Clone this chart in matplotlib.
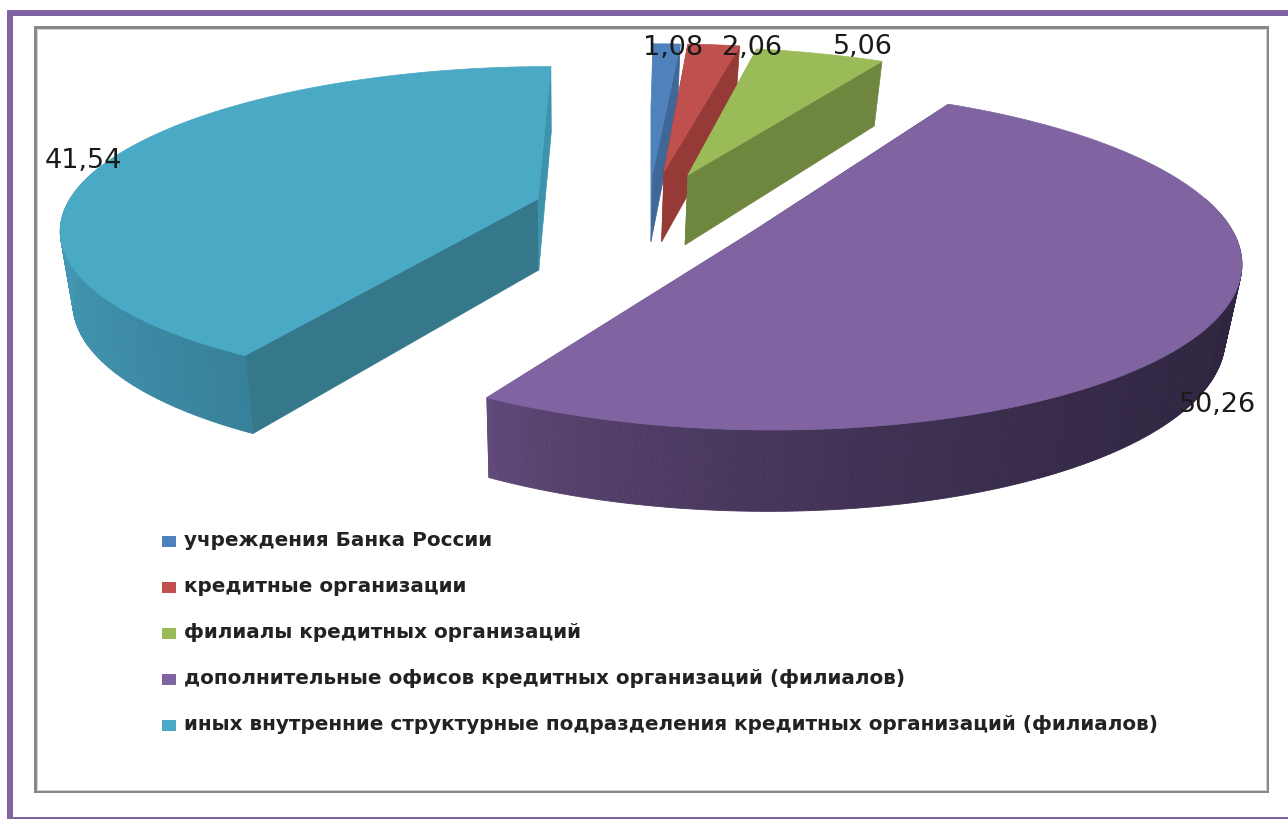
import numpy as np
import matplotlib
matplotlib.use("Agg")
import matplotlib.pyplot as plt
from matplotlib.patches import Polygon, Rectangle
from matplotlib.colors import to_rgb

# data
categories = [
    "учреждения Банка России",
    "кредитные организации",
    "филиалы кредитных организаций",
    "дополнительные офисов кредитных организаций (филиалов)",
    "иных внутренние структурные подразделения кредитных организаций (филиалов)",
]
values = [1.08, 2.06, 5.06, 50.26, 41.54]

# slice styling
top_colors = ["#4f81bd", "#c0504d", "#9bbb59", "#8064a2", "#4aa9c4"]
side_colors = ["#4f81bd", "#963a38", "#6f863f", "#624b7c", "#35788c"]
side_colors_end = ["#3f6797", "#963a38", "#6f863f", "#624b7c", "#3e93ac"]
wall_dark = ["#3f6797", "#963a38", "#6f863f", "#2f2540", "#37809a"]
wall_light = ["#3f6797", "#963a38", "#6f863f", "#644c7e", "#4297b2"]

# exploded layout in pixels (apex of each slice on the picture)
explode_x = [653, 664, 688, 755, 538]
explode_y = [172, 172, 175, 230, 199]
radius_x = [470, 470, 475, 477, 468]
radius_y = [150, 150, 150, 166, 155]
skew = [0, -4, -13, -15, 15]
draw_order = [0, 1, 2, 4, 3]

# perspective settings
PERSP = 0.17
BOTTOM_SCALE = 0.975
BOTTOM_X0 = 570

label_pos = [(673, 48), (752, 48), (863, 47), (1218, 405), (83, 161)]

W, H = 1288, 819
fig = plt.figure(figsize=(W / 100, H / 100), dpi=100)
ax = fig.add_axes([0, 0, 1, 1])
ax.set_xlim(0, W)
ax.set_ylim(H, 0)
ax.axis("off")


def project(i, theta):
    u, v = np.sin(theta), np.cos(theta)
    w = 1 + PERSP * v
    x = explode_x[i] + (radius_x[i] * u + skew[i] * v) / w
    y = explode_y[i] - radius_y[i] * v / w
    return x, y


def drop(x, y):
    # the lower disc: slightly smaller and further down
    return BOTTOM_X0 + BOTTOM_SCALE * (np.asarray(x) - BOTTOM_X0), 62 + 1.045 * np.asarray(y)


def mix(c1, c2, t):
    a, b = np.array(to_rgb(c1)), np.array(to_rgb(c2))
    return tuple(a + (b - a) * t)


# frames
ax.add_patch(Rectangle((7, 10), W - 7, 6, fc="#8064a2", ec="none"))
ax.add_patch(Rectangle((7, 10), 6, H - 10, fc="#8064a2", ec="none"))
ax.add_patch(Rectangle((7, 817), W - 7, 2, fc="#8064a2", ec="none"))
ax.add_patch(Rectangle((34, 26), 1235, 767, fc="#888888", ec="none"))
ax.add_patch(Rectangle((37, 29), 1230, 762, fc="#d4d4d4", ec="none"))
ax.add_patch(Rectangle((38, 30), 1228, 760, fc="white", ec="none"))

# slices
fractions = np.array(values) / sum(values)
edges = np.concatenate([[0], np.cumsum(fractions)]) * 2 * np.pi

for i in draw_order:
    th = np.linspace(edges[i], edges[i + 1], 320)
    tx, ty = project(i, th)
    bx, by = drop(tx, ty)
    ax_, ay_ = explode_x[i], explode_y[i]
    abx, aby = drop(ax_, ay_)

    # flat cut walls
    ax.add_patch(Polygon([(ax_, ay_), (tx[0], ty[0]), (bx[0], by[0]), (abx, aby)],
                         fc=side_colors[i], ec=side_colors[i], lw=0.5))
    ax.add_patch(Polygon([(ax_, ay_), (tx[-1], ty[-1]), (bx[-1], by[-1]), (abx, aby)],
                         fc=side_colors_end[i], ec=side_colors_end[i], lw=0.5))

    # curved outer wall, only the part facing the viewer, shaded left to right
    near = np.cos(th) < 0.2
    if near.any():
        x_lo, x_hi = tx[near].min(), tx[near].max()
        for k in range(len(th) - 1):
            if not near[k]:
                continue
            t = np.clip((tx[k] - x_lo) / (x_hi - x_lo), 0, 1) ** 0.6
            c = mix(wall_light[i], wall_dark[i], t)
            ax.add_patch(Polygon([(tx[k], ty[k]), (tx[k + 1], ty[k + 1]),
                                  (bx[k + 1], by[k + 1]), (bx[k], by[k])],
                                 fc=c, ec=c, lw=0.6))

    # top face
    pts = [(ax_, ay_)] + list(zip(tx, ty))
    ax.add_patch(Polygon(pts, fc=top_colors[i], ec=top_colors[i], lw=0.5))

# data labels
for i, v in enumerate(values):
    ax.text(label_pos[i][0], label_pos[i][1], f"{v:.2f}".replace(".", ","),
            ha="center", va="center", fontsize=19.5, color="#1a1a1a",
            family="DejaVu Sans")

# legend
for i, name in enumerate(categories):
    y = 541 + 46 * i
    ax.add_patch(Rectangle((162, y - 5.5), 14, 11, fc=top_colors[i], ec="none"))
    ax.text(184, y, name, ha="left", va="center", fontsize=14.4, fontweight="bold",
            color="#222222", family="DejaVu Sans")

fig.savefig("out.png", dpi=100)
